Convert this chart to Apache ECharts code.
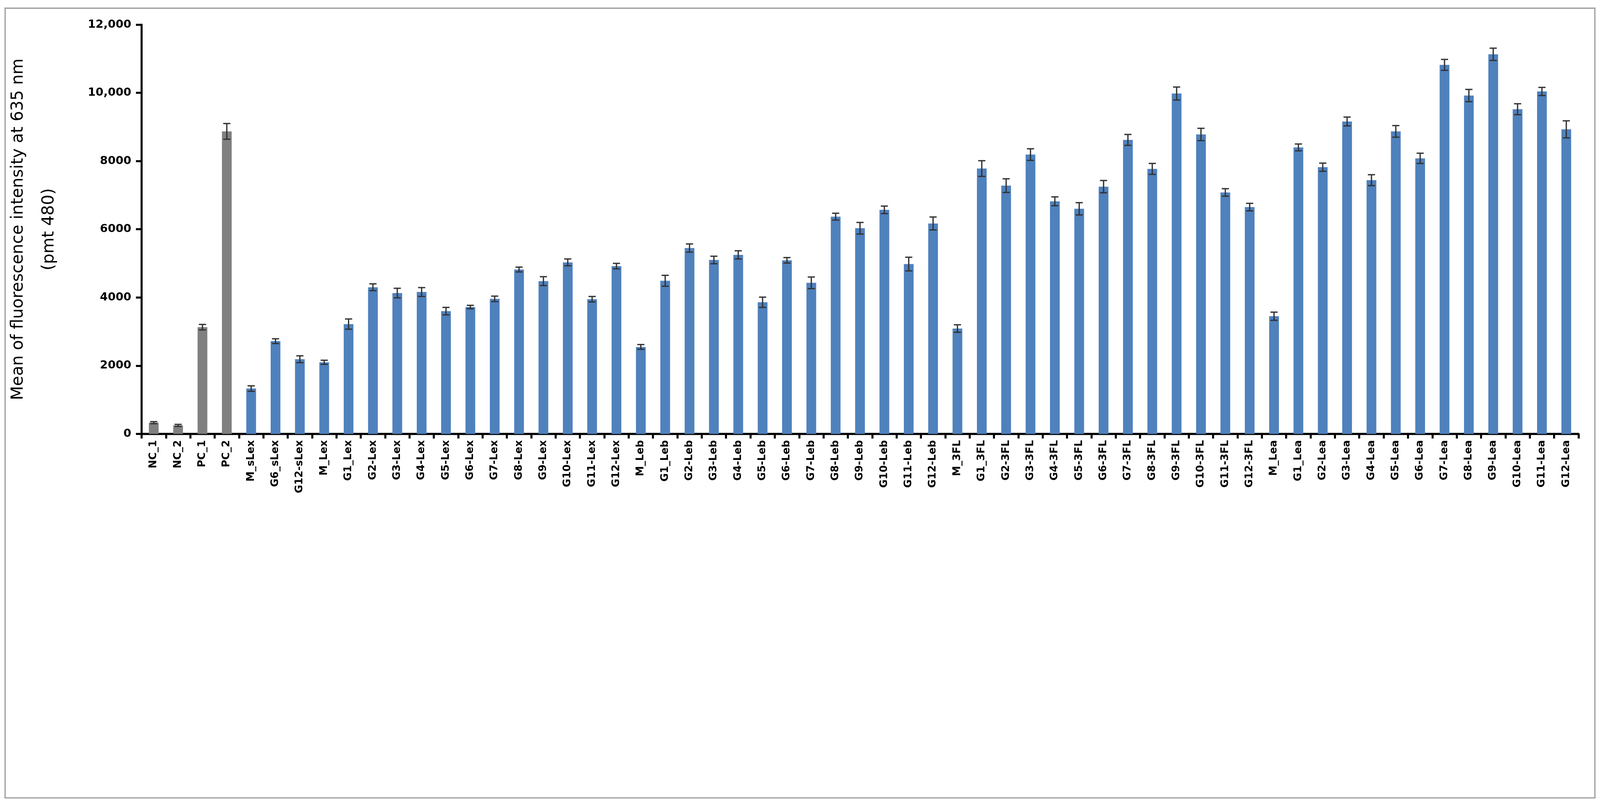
<!DOCTYPE html>
<html>
<head>
<meta charset="utf-8">
<script src="https://cdn.jsdelivr.net/npm/echarts@6/dist/echarts.min.js"></script>
<style>html,body{margin:0;padding:0;background:#fff;overflow:hidden}#main{width:100vw;height:100vh}</style>
</head>
<body>
<div id="main"></div>
<script>
const categories = ['NC_1','NC_2','PC_1','PC_2','M_sLex','G6_sLex','G12-sLex','M_Lex','G1_Lex','G2-Lex','G3-Lex','G4-Lex','G5-Lex','G6-Lex','G7-Lex','G8-Lex','G9-Lex','G10-Lex','G11-Lex','G12-Lex','M_Leb','G1_Leb','G2-Leb','G3-Leb','G4-Leb','G5-Leb','G6-Leb','G7-Leb','G8-Leb','G9-Leb','G10-Leb','G11-Leb','G12-Leb','M_3FL','G1_3FL','G2-3FL','G3-3FL','G4-3FL','G5-3FL','G6-3FL','G7-3FL','G8-3FL','G9-3FL','G10-3FL','G11-3FL','G12-3FL','M_Lea','G1_Lea','G2-Lea','G3-Lea','G4-Lea','G5-Lea','G6-Lea','G7-Lea','G8-Lea','G9-Lea','G10-Lea','G11-Lea','G12-Lea'];
const means = [330,250,3130,8870,1330,2720,2190,2100,3220,4300,4130,4160,3600,3720,3960,4820,4480,5030,3950,4920,2550,4490,5450,5100,5250,3860,5090,4430,6370,6030,6570,4980,6170,3090,7780,7280,8190,6820,6600,7250,8620,7770,9980,8780,7080,6650,3450,8400,7820,9160,7440,8870,8080,10820,9920,11130,9520,10040,8930];
const errors = [30,30,80,230,80,70,100,60,150,100,140,130,110,50,80,70,130,100,80,80,70,160,120,110,120,150,80,170,100,170,110,200,190,110,230,200,170,130,180,180,160,160,190,180,110,110,120,100,120,130,160,170,150,160,180,180,160,120,250];
const greyCount = 4;

const dom = document.getElementById('main');
const W = window.innerWidth, H = window.innerHeight;
const s = W / 6241; // all sizes below are for a 6241px wide page
const px = v => v * s;

const chart = echarts.init(dom, null, { width: W, height: H });
const barData = means.map((v, i) => ({
    value: v,
    itemStyle: { color: i < greyCount ? '#808080' : '#4f81bd' }
}));
const errData = means.map((v, i) => [i, v - errors[i], v + errors[i]]);

chart.setOption({
    backgroundColor: '#fff',
    animation: false,
    graphic: [{
        type: 'rect',
        shape: { x: px(20), y: px(32), width: W - px(40), height: H - px(52) },
        style: { fill: 'none', stroke: '#a0a0a0', lineWidth: px(5) }
    }],
    grid: { left: px(530), right: px(84), top: px(96), bottom: H - px(1692) },
    xAxis: {
        type: 'category',
        data: categories,
        axisLine: { lineStyle: { color: '#000', width: px(8) } },
        axisTick: { show: true, length: px(18), lineStyle: { color: '#000', width: px(8) } },
        axisLabel: {
            rotate: 90, interval: 0, margin: px(24),
            fontFamily: 'DejaVu Sans', fontWeight: 'bold', fontSize: px(40), color: '#000'
        }
    },
    yAxis: {
        type: 'value',
        min: 0, max: 12000, interval: 2000,
        name: 'Mean of fluorescence intensity at 635 nm\n(pmt 480)',
        nameLocation: 'middle',
        nameGap: px(300),
        nameTextStyle: { fontFamily: 'DejaVu Sans', fontSize: px(64), color: '#000', lineHeight: px(120) },
        splitLine: { show: false },
        axisLine: { show: true, lineStyle: { color: '#000', width: px(8) } },
        axisTick: { show: true, length: px(22), lineStyle: { color: '#000', width: px(8) } },
        axisLabel: {
            fontFamily: 'DejaVu Sans', fontWeight: 'bold', fontSize: px(44), color: '#000', margin: px(40),
            formatter: v => v >= 10000 ? v.toLocaleString('en-US') : String(v)
        }
    },
    series: [{
        type: 'bar',
        data: barData,
        barWidth: '40%'
    }, {
        type: 'custom',
        data: errData,
        z: 5,
        renderItem: function (params, api) {
            const x = api.value(0);
            const lo = api.coord([x, api.value(1)]);
            const hi = api.coord([x, api.value(2)]);
            const cap = px(14);
            const style = { stroke: '#333', lineWidth: px(5) };
            return {
                type: 'group',
                children: [
                    { type: 'line', shape: { x1: lo[0], y1: lo[1], x2: hi[0], y2: hi[1] }, style: style },
                    { type: 'line', shape: { x1: hi[0] - cap, y1: hi[1], x2: hi[0] + cap, y2: hi[1] }, style: style },
                    { type: 'line', shape: { x1: lo[0] - cap, y1: lo[1], x2: lo[0] + cap, y2: lo[1] }, style: style }
                ]
            };
        }
    }]
});
</script>
</body>
</html>
